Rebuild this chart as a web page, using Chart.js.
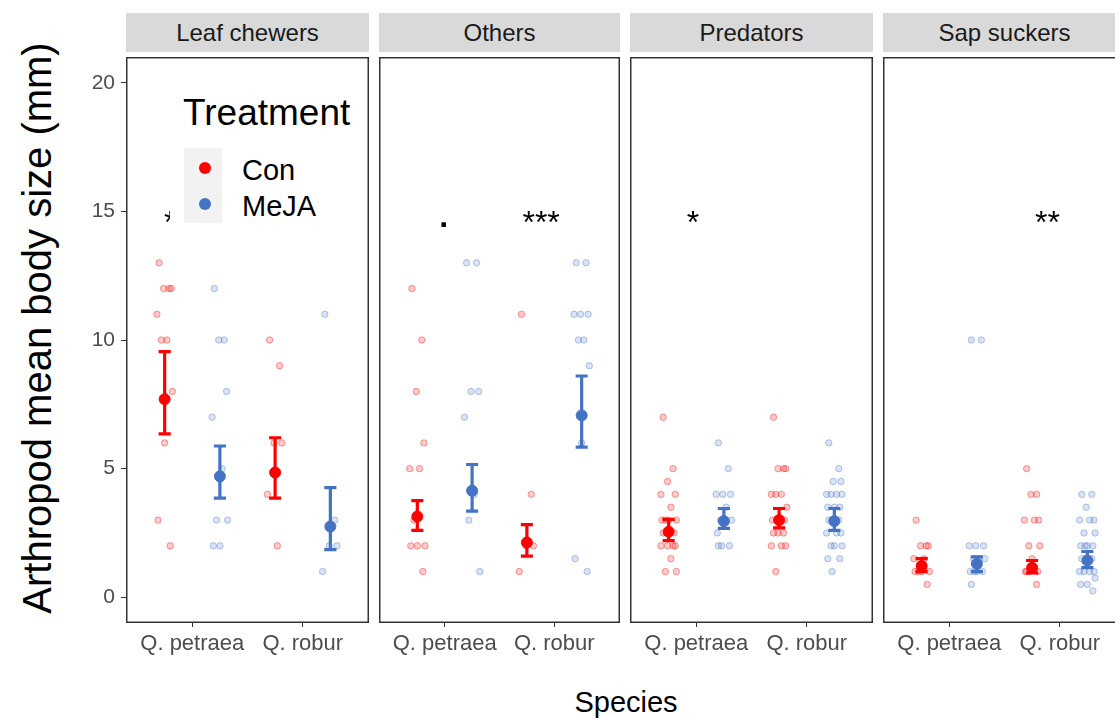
<!DOCTYPE html>
<html>
<head>
<meta charset="utf-8">
<script src="https://cdn.jsdelivr.net/npm/chart.js@4.4.1/dist/chart.umd.min.js"></script>
<style>
  html, body { margin: 0; padding: 0; background: #fff; }
  body { width: 1115px; height: 718px; position: relative; overflow: hidden;
         font-family: "Liberation Sans", Arial, sans-serif; }
  canvas { position: absolute; }
  .strip { position: absolute; top: 13px; height: 39px; background: #d9d9d9; color: #1a1a1a;
           font-size: 24px; line-height: 39px; text-align: center; white-space: nowrap; }
  .ytitle { position: absolute; left: 37px; top: 328px; transform: translate(-50%, -50%) rotate(-90deg);
            font-size: 40px; white-space: nowrap; color: #000; }
  .xtitle { position: absolute; left: 626px; top: 686px; transform: translateX(-50%);
            font-size: 29px; white-space: nowrap; color: #000; }
  .legend { position: absolute; left: 170px; top: 86px; width: 194px; height: 139px; background: #fff; z-index: 5; }
  .legend .title { position: absolute; left: 13px; top: 8px; font-size: 37px; line-height: 37px; color: #000; }
  .legend .keys { position: absolute; left: 14px; top: 62px; width: 38px; height: 75px; background: #f2f2f2; }
  .legend .dot { position: absolute; width: 12px; height: 12px; border-radius: 50%; }
  .legend .lab { position: absolute; left: 72px; font-size: 29px; line-height: 29px; color: #000; }
</style>
</head>
<body>
<div id="root"></div>
<script>
const facets = ['Leaf chewers', 'Others', 'Predators', 'Sap suckers'];
const species = ['Q. petraea', 'Q. robur'];
const treatments = ['Con', 'MeJA'];
const yTicks = [0, 5, 10, 15, 20];

// raw body sizes, facet by facet: petraea then robur
const conRaw = [
  [13, 12, 12, 12, 11, 10, 10, 8, 6, 3, 2],
  [10, 9, 6, 6, 4, 2],
  [12, 10, 8, 6, 5, 5, 3, 2, 2, 2, 1],
  [11, 4, 2, 2, 1],
  [7, 5, 4.5, 4, 4, 3.5, 3, 3, 3, 3, 2.5, 2.5, 2.5, 2, 2, 2, 2, 1.5, 1, 1],
  [7, 5, 5, 5, 4, 4, 4, 3.5, 3, 3, 3, 3, 2.5, 2.5, 2.5, 2, 2, 2, 1],
  [3, 2, 2, 2, 1.5, 1.5, 1, 1, 1, 1, 0.5],
  [5, 4, 4, 3, 3, 3, 2, 2, 1.5, 1, 1, 1, 1, 0.5]
];
const mejaRaw = [
  [12, 10, 10, 8, 7, 5, 3, 3, 2, 2],
  [11, 3, 2, 2, 1],
  [13, 13, 8, 8, 7, 4, 3, 1],
  [13, 13, 11, 11, 11, 10, 10, 9, 6, 1.5, 1],
  [6, 5, 4, 4, 4, 3.5, 3, 3, 3, 2.5, 2, 2, 2],
  [6, 5, 4.5, 4.5, 4, 4, 4, 4, 3.5, 3.5, 3.5, 3, 3, 3, 3, 2.5, 2.5, 2.5, 2, 2, 2, 1.5, 1.5, 1],
  [10, 10, 2, 2, 2, 1.5, 1.5, 1.5, 1, 1, 1, 1, 0.5],
  [4, 4, 3.5, 3, 3, 3, 2.5, 2.5, 2, 2, 2, 2, 1.5, 1.5, 1.5, 1, 1, 1, 1, 0.75, 0.5, 0.5, 0.25]
];

// means and confidence limits, same order as the raw lists
const conMean = [7.7, 4.85, 3.14, 2.13, 2.55, 3.0, 1.22, 1.15];
const conLow  = [6.35, 3.85, 2.6, 1.6, 2.2, 2.7, 1.0, 0.95];
const conHigh = [9.55, 6.2, 3.76, 2.82, 3.03, 3.45, 1.5, 1.43];
const mejaMean = [4.7, 2.75, 4.14, 7.07, 2.96, 2.96, 1.3, 1.43];
const mejaLow  = [3.85, 1.85, 3.35, 5.84, 2.68, 2.6, 1.0, 1.15];
const mejaHigh = [5.88, 4.26, 5.16, 8.6, 3.45, 3.45, 1.57, 1.78];

// significance labels
const sigText  = ['*', '.', '***', '*', '**'];
const sigFacet = [0, 1, 1, 2, 3];
const sigX     = [0.8, 0.99, 1.88, 0.97, 1.89];
const sigY     = 14.5;

const FONT = '"Liberation Sans", Arial, sans-serif';
const colors  = ['#ff0000', '#4472c4'];
const rawFill = ['rgba(255,0,0,0.2)', 'rgba(68,114,196,0.2)'];
const rawLine = ['rgba(255,0,0,0.38)', 'rgba(68,114,196,0.38)'];
const dodge = [-0.25, 0.25];
const capW = 0.055;
const jitter = [-0.05, 0.04, -0.01, 0.06, -0.07, 0.02, -0.03, 0.07, 0.0, -0.06, 0.05, -0.02];

const panelLeft  = [126, 379, 630, 883];
const panelWidth = [243, 241, 243, 243];
const panelTop = 57, panelH = 566, xAxisH = 50, yAxisW = 46;

const root = document.getElementById('root');

const panelBox = {
  id: 'panelBox',
  afterDatasetsDraw(chart) {
    const a = chart.chartArea, ctx = chart.ctx;
    ctx.save();
    ctx.strokeStyle = '#333333';
    ctx.lineWidth = 1.5;
    ctx.strokeRect(a.left + 0.75, a.top + 0.75, a.right - a.left - 1.5, a.bottom - a.top - 1.5);
    ctx.restore();
  }
};

const sigLabels = {
  id: 'sigLabels',
  afterDatasetsDraw(chart, args, opts) {
    const ctx = chart.ctx, sx = chart.scales.x, sy = chart.scales.y;
    ctx.save();
    ctx.fillStyle = '#000';
    ctx.textAlign = 'center';
    sigText.forEach((t, i) => {
      if (sigFacet[i] !== opts.facet) return;
      const px = sx.getPixelForValue(sigX[i]), py = sy.getPixelForValue(sigY);
      if (t === '.') {
        ctx.font = 'bold 32px ' + FONT;
        ctx.textBaseline = 'alphabetic';
        ctx.fillText(t, px, py + 3);
      } else {
        ctx.font = '32px ' + FONT;
        ctx.textBaseline = 'middle';
        ctx.fillText(t, px, py);
      }
    });
    ctx.restore();
  }
};

function makePanel(f) {
  const datasets = [];
  treatments.forEach((t, ti) => {
    const raw  = ti === 0 ? conRaw : mejaRaw;
    const mean = ti === 0 ? conMean : mejaMean;
    const low  = ti === 0 ? conLow : mejaLow;
    const high = ti === 0 ? conHigh : mejaHigh;
    const pts = [], bars = [], means = [];
    species.forEach((s, si) => {
      const k = f * 2 + si;
      const xc = si + 1 + dodge[ti];
      raw[k].forEach((v, i) => pts.push({ x: xc + jitter[i % jitter.length], y: v }));
      bars.push(
        { x: xc, y: low[k] }, { x: xc, y: high[k] }, { x: xc, y: null },
        { x: xc - capW, y: high[k] }, { x: xc + capW, y: high[k] }, { x: xc, y: null },
        { x: xc - capW, y: low[k] }, { x: xc + capW, y: low[k] }, { x: xc, y: null }
      );
      means.push({ x: xc, y: mean[k] });
    });
    datasets.push({ type: 'scatter', label: t + ' raw', data: pts, pointRadius: 3.2,
      backgroundColor: rawFill[ti], borderColor: rawLine[ti], borderWidth: 1, order: 3 });
    datasets.push({ type: 'line', label: t + ' CI', data: bars, borderColor: colors[ti], borderWidth: 3.2,
      pointRadius: 0, spanGaps: false, fill: false, order: 2 });
    datasets.push({ type: 'scatter', label: t, data: means, pointRadius: 5.5,
      backgroundColor: colors[ti], borderColor: colors[ti], order: 1 });
  });

  const first = f === 0;
  const canvas = document.createElement('canvas');
  const w = panelWidth[f] + (first ? yAxisW : 0);
  canvas.width = w;
  canvas.height = panelH + xAxisH;
  canvas.style.left = (panelLeft[f] - (first ? yAxisW : 0)) + 'px';
  canvas.style.top = panelTop + 'px';
  canvas.style.width = w + 'px';
  canvas.style.height = (panelH + xAxisH) + 'px';
  root.appendChild(canvas);

  const strip = document.createElement('div');
  strip.className = 'strip';
  strip.style.left = panelLeft[f] + 'px';
  strip.style.width = panelWidth[f] + 'px';
  strip.textContent = facets[f];
  root.appendChild(strip);

  new Chart(canvas, {
    type: 'scatter',
    data: { datasets },
    plugins: [panelBox, sigLabels],
    options: {
      responsive: false,
      animation: false,
      layout: { padding: 0, autoPadding: false },
      plugins: { legend: { display: false }, tooltip: { enabled: false }, sigLabels: { facet: f } },
      scales: {
        x: {
          type: 'linear', min: 0.4, max: 2.6,
          afterBuildTicks: s => { s.ticks = [1, 2].map(v => ({ value: v })); },
          ticks: { callback: v => species[Math.round(v) - 1], color: '#4d4d4d',
                   font: { size: 22, family: FONT }, padding: 4, maxRotation: 0, autoSkip: false },
          grid: { drawOnChartArea: false, drawTicks: true, tickLength: 4, color: '#333333' },
          border: { display: false },
          afterFit: s => { s.height = xAxisH; s.paddingLeft = 0; s.paddingRight = 0; }
        },
        y: {
          type: 'linear', min: -1, max: 21, display: first,
          afterBuildTicks: s => { s.ticks = yTicks.map(v => ({ value: v })); },
          ticks: { color: '#4d4d4d', font: { size: 21, family: FONT }, padding: 6 },
          grid: { drawOnChartArea: false, drawTicks: true, tickLength: 5, color: '#333333' },
          border: { display: false },
          afterFit: s => { s.width = first ? yAxisW : 0; s.paddingTop = 0; s.paddingBottom = 0; }
        }
      }
    }
  });
}

facets.forEach((name, f) => makePanel(f));
</script>
<div class="ytitle">Arthropod mean body size (mm)</div>
<div class="xtitle">Species</div>
<div class="legend">
  <div class="title">Treatment</div>
  <div class="keys"></div>
  <div class="dot" style="left:29px; top:76px; background:#ff0000;"></div>
  <div class="dot" style="left:29px; top:112px; background:#4472c4;"></div>
  <div class="lab" style="top:70px;">Con</div>
  <div class="lab" style="top:106px;">MeJA</div>
</div>
</body>
</html>
